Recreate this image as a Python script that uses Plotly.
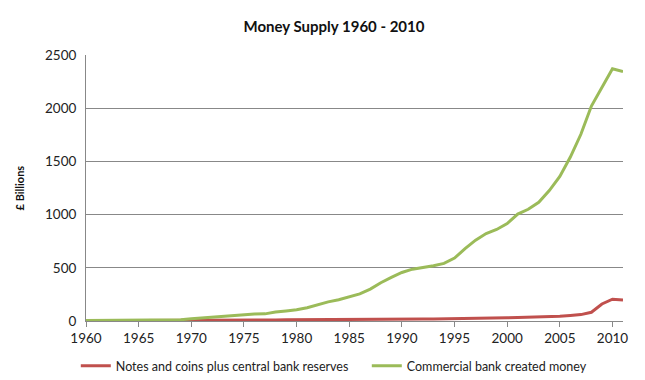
import plotly.graph_objects as go

years = list(range(1960, 2012))
notes_coins = [3, 3, 3, 3, 3, 4, 4, 4, 4, 5,
               5, 5, 6, 6, 7, 7, 8, 9, 10, 11,
               12, 12, 13, 13, 14, 15, 15, 16, 16, 17,
               17, 17, 18, 18, 19, 20, 25, 26, 27, 28,
               30, 33, 35, 37, 40, 45, 52, 60, 82, 160,
               205, 198]
commercial = [5, 5, 5, 5, 5, 5, 5, 5, 5, 12,
              20, 28, 36, 45, 50, 57, 66, 67, 85, 95,
              105, 125, 155, 180, 200, 225, 255, 300, 360, 410,
              456, 487, 500, 520, 541, 591, 680, 760, 822, 860,
              915, 1005, 1050, 1116, 1226, 1358, 1541, 1755, 2020, 2190,
              2370, 2345]
x_ticks = [1960, 1965, 1970, 1975, 1980, 1985, 1990, 1995, 2000, 2005, 2010]
y_ticks = [0, 500, 1000, 1500, 2000, 2500]

font = "Lato, 'Open Sans', sans-serif"

fig = go.Figure()
fig.add_trace(go.Scatter(x=years, y=notes_coins, mode="lines",
                         name="Notes and coins plus central bank reserves",
                         line=dict(color="#C0504D", width=3)))
fig.add_trace(go.Scatter(x=years, y=commercial, mode="lines",
                         name="Commercial bank created money",
                         line=dict(color="#9BBB59", width=3)))

fig.update_layout(
    width=645, height=380,
    margin=dict(l=78, r=30, t=47, b=67, autoexpand=False),
    paper_bgcolor="white", plot_bgcolor="white",
    font=dict(family=font, size=13, color="#222"),
    title=dict(text="<b>Money Supply 1960 - 2010</b>", x=0.5054, xanchor="center",
               xref="container", y=0.95, yanchor="middle", font=dict(size=15, color="#111")),
    showlegend=True,
    legend=dict(orientation="h", x=-0.019, y=-0.17, xanchor="left", yanchor="middle",
                font=dict(size=12.5), entrywidth=246, itemwidth=30,
                traceorder="normal", bgcolor="rgba(0,0,0,0)"),
    xaxis=dict(range=[1960, 2011], tickvals=x_ticks, ticks="outside", ticklen=5,
               tickcolor="#888", showline=True, linecolor="#888", linewidth=1,
               showgrid=False, zeroline=False, tickfont=dict(size=13.5),
               automargin=False),
    yaxis=dict(range=[0, 2500], tickvals=y_ticks, showline=True, linecolor="#888",
               linewidth=1, showgrid=True, gridcolor="#888", gridwidth=1,
               zeroline=False, ticks="", tickfont=dict(size=13.5), automargin=False,
               ticklabelstandoff=6),
    annotations=[dict(text="<b>£ Billions</b>", xref="paper", yref="paper",
                      x=-0.124, y=0.5, xanchor="center", yanchor="middle",
                      textangle=-90, showarrow=False, font=dict(size=11, color="#111"))],
)

fig.write_html("out.html")
